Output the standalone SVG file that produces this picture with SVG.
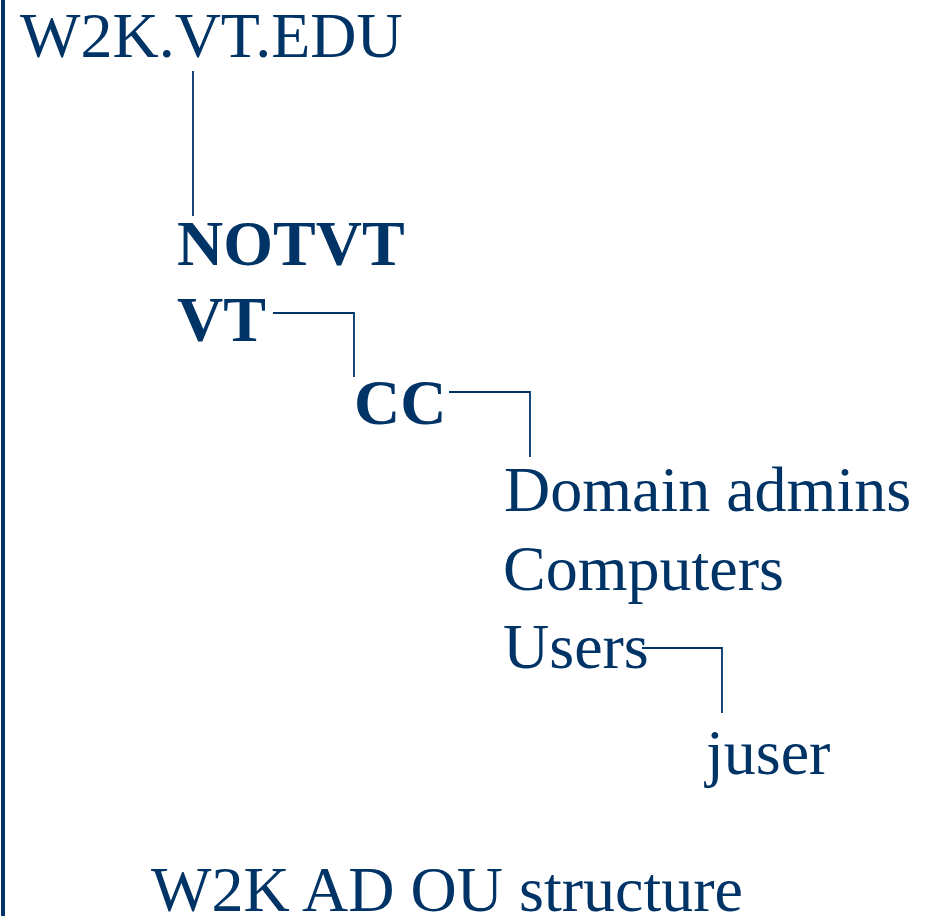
<svg xmlns="http://www.w3.org/2000/svg" width="928" height="916" viewBox="0 0 928 916">
<style>
  text { font-family: "Liberation Serif", "Times New Roman", serif; font-size: 64px; fill: #003366; }
  .b { font-weight: bold; }
  .conn { fill: none; stroke: #003366; stroke-width: 1.8; }
</style>
<rect x="0" y="0" width="928" height="916" fill="#ffffff"/>
<rect x="1" y="0" width="4" height="916" fill="#003366"/>
<g id="connectors">
  <path class="conn" d="M193,71 V216"/>
  <path class="conn" d="M273,313 H354 V377"/>
  <path class="conn" d="M449,392 H530 V457"/>
  <path class="conn" d="M642,648 H722 V713"/>
</g>
<g id="node-root"><text x="20" y="57">W2K.VT.EDU</text></g>
<g id="node-notvt"><text class="b" x="177" y="265">NOTVT</text></g>
<g id="node-vt"><text class="b" x="177" y="341">VT</text></g>
<g id="node-cc"><text class="b" x="354" y="424">CC</text></g>
<g id="node-domain-admins"><text x="504" y="511">Domain admins</text></g>
<g id="node-computers"><text x="503" y="590">Computers</text></g>
<g id="node-users"><text x="503" y="668">Users</text></g>
<g id="node-juser"><text x="706" y="774">juser</text></g>
<g id="caption"><text x="151" y="911">W2K AD OU structure</text></g>
</svg>
